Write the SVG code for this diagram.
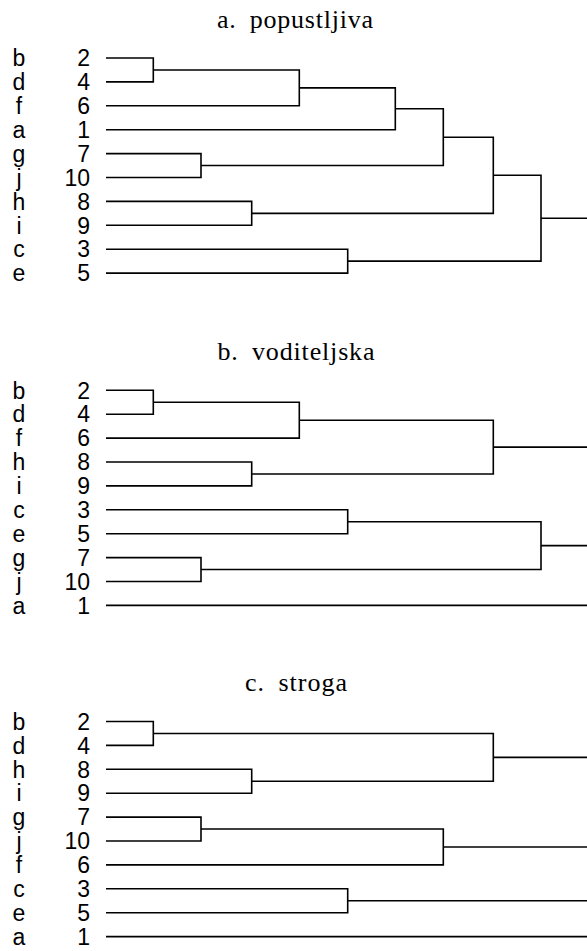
<svg xmlns="http://www.w3.org/2000/svg" width="587" height="951" viewBox="0 0 587 951">
<style>
.t{font-family:"Liberation Serif","Times New Roman",serif;font-size:26px;fill:#000;text-anchor:middle;word-spacing:6px}
.l{font-family:"Liberation Sans",Arial,sans-serif;font-size:23px;fill:#000;text-anchor:middle}
.n{font-family:"Liberation Sans",Arial,sans-serif;font-size:23px;fill:#000;text-anchor:end}
.c path{fill:none;stroke:#000;stroke-width:1.6;stroke-linejoin:miter;stroke-linecap:butt}
</style>
<rect width="587" height="951" fill="#fff"/>
<!-- Titles -->
<text id="title-a" class="t" x="295" y="27.5" textLength="156" lengthAdjust="spacing">a. popustljiva</text>
<text id="title-b" class="t" x="296" y="359.8" textLength="157" lengthAdjust="spacing">b. voditeljska</text>
<text id="title-c" class="t" x="296" y="691" textLength="102" lengthAdjust="spacing">c. stroga</text>

<!-- Panel a leaves -->
<g id="a-b"><text class="l" x="19" y="66.2">b</text><text class="n" x="90" y="66.2">2</text></g>
<g id="a-d"><text class="l" x="19" y="90.1">d</text><text class="n" x="90" y="90.1">4</text></g>
<g id="a-f"><text class="l" x="19" y="114">f</text><text class="n" x="90" y="114">6</text></g>
<g id="a-a"><text class="l" x="19" y="137.9">a</text><text class="n" x="90" y="137.9">1</text></g>
<g id="a-g"><text class="l" x="19" y="161.8">g</text><text class="n" x="90" y="161.8">7</text></g>
<g id="a-j"><text class="l" x="19" y="185.7">j</text><text class="n" x="90" y="185.7">10</text></g>
<g id="a-h"><text class="l" x="19" y="209.6">h</text><text class="n" x="90" y="209.6">8</text></g>
<g id="a-i"><text class="l" x="19" y="233.5">i</text><text class="n" x="90" y="233.5">9</text></g>
<g id="a-c"><text class="l" x="19" y="257.4">c</text><text class="n" x="90" y="257.4">3</text></g>
<g id="a-e"><text class="l" x="19" y="281.3">e</text><text class="n" x="90" y="281.3">5</text></g>

<!-- Panel b leaves -->
<g id="b-b"><text class="l" x="19" y="398.5">b</text><text class="n" x="90" y="398.5">2</text></g>
<g id="b-d"><text class="l" x="19" y="422.4">d</text><text class="n" x="90" y="422.4">4</text></g>
<g id="b-f"><text class="l" x="19" y="446.3">f</text><text class="n" x="90" y="446.3">6</text></g>
<g id="b-h"><text class="l" x="19" y="470.2">h</text><text class="n" x="90" y="470.2">8</text></g>
<g id="b-i"><text class="l" x="19" y="494.1">i</text><text class="n" x="90" y="494.1">9</text></g>
<g id="b-c"><text class="l" x="19" y="518">c</text><text class="n" x="90" y="518">3</text></g>
<g id="b-e"><text class="l" x="19" y="541.9">e</text><text class="n" x="90" y="541.9">5</text></g>
<g id="b-g"><text class="l" x="19" y="565.8">g</text><text class="n" x="90" y="565.8">7</text></g>
<g id="b-j"><text class="l" x="19" y="589.7">j</text><text class="n" x="90" y="589.7">10</text></g>
<g id="b-a"><text class="l" x="19" y="613.6">a</text><text class="n" x="90" y="613.6">1</text></g>

<!-- Panel c leaves -->
<g id="c-b"><text class="l" x="19" y="729.7">b</text><text class="n" x="90" y="729.7">2</text></g>
<g id="c-d"><text class="l" x="19" y="753.6">d</text><text class="n" x="90" y="753.6">4</text></g>
<g id="c-h"><text class="l" x="19" y="777.5">h</text><text class="n" x="90" y="777.5">8</text></g>
<g id="c-i"><text class="l" x="19" y="801.4">i</text><text class="n" x="90" y="801.4">9</text></g>
<g id="c-g"><text class="l" x="19" y="825.3">g</text><text class="n" x="90" y="825.3">7</text></g>
<g id="c-j"><text class="l" x="19" y="849.2">j</text><text class="n" x="90" y="849.2">10</text></g>
<g id="c-f"><text class="l" x="19" y="873.1">f</text><text class="n" x="90" y="873.1">6</text></g>
<g id="c-c"><text class="l" x="19" y="897">c</text><text class="n" x="90" y="897">3</text></g>
<g id="c-e"><text class="l" x="19" y="920.9">e</text><text class="n" x="90" y="920.9">5</text></g>
<g id="c-a"><text class="l" x="19" y="944.8">a</text><text class="n" x="90" y="944.8">1</text></g>

<g id="connectors" class="c">
<!-- Panel a -->
<path d="M106 58H153.3V81.9H106"/>
<path d="M153.3 69.95H299.3V105.8H106"/>
<path d="M299.3 87.9H395.3V129.7H106"/>
<path d="M106 153.6H201V177.5H106"/>
<path d="M395.3 108.8H443.3V165.55H201"/>
<path d="M106 201.4H251.7V225.3H106"/>
<path d="M443.3 137.2H493.3V213.35H251.7"/>
<path d="M106 249.2H347.7V273.1H106"/>
<path d="M493.3 175.3H541V261.15H347.7"/>
<path d="M541 218.2H587"/>
<!-- Panel b -->
<path d="M106 390.3H153.3V414.2H106"/>
<path d="M153.3 402.25H299.3V438.1H106"/>
<path d="M106 462H251.7V485.9H106"/>
<path d="M299.3 420.2H493.3V473.95H251.7"/>
<path d="M493.3 447.1H587"/>
<path d="M106 509.8H347.7V533.7H106"/>
<path d="M106 557.6H201V581.5H106"/>
<path d="M347.7 521.75H541V569.55H201"/>
<path d="M541 545.65H587"/>
<path d="M106 605.4H587"/>
<!-- Panel c -->
<path d="M106 721.5H153.3V745.4H106"/>
<path d="M106 769.3H251.7V793.2H106"/>
<path d="M153.3 733.45H493.3V781.25H251.7"/>
<path d="M493.3 757.35H587"/>
<path d="M106 817.1H201V841H106"/>
<path d="M201 829.05H443.3V864.9H106"/>
<path d="M443.3 846.975H587"/>
<path d="M106 888.8H347.7V912.7H106"/>
<path d="M347.7 900.75H587"/>
<path d="M106 936.6H587"/>
</g>
</svg>
